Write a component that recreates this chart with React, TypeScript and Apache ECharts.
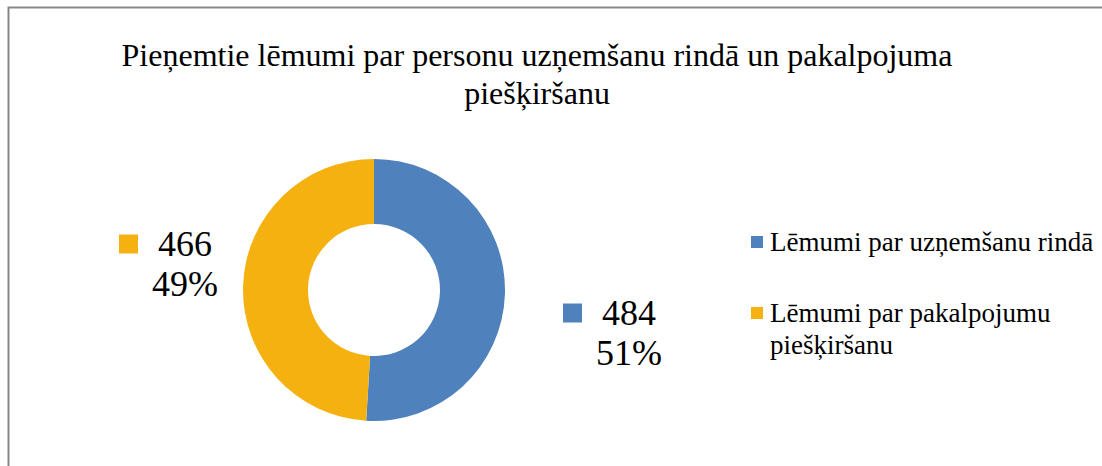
import React, { useEffect, useRef } from "react";
import * as echarts from "echarts";

const titleLines = ["Pieņemtie lēmumi par personu uzņemšanu rindā un pakalpojuma", "piešķiršanu"];
const categories = ["Lēmumi par uzņemšanu rindā", "Lēmumi par pakalpojumu piešķiršanu"];
const legendNames = ["Lēmumi par uzņemšanu rindā", " \nLēmumi par pakalpojumu\npiešķiršanu"];
const values = [484, 466];
const colors = ["#4F81BD", "#F5B110"];

const FONT = "Liberation Serif";

export default function App() {
  const ref = useRef<HTMLDivElement>(null);
  useEffect(() => {
    if (!ref.current) return;
    const chart = echarts.init(ref.current, null, { renderer: "svg" });
    const labelPos: Record<number, [number, number]> = { 0: [629, 333], 1: [185, 264] };
    chart.setOption({
      animation: false,
      backgroundColor: "#ffffff",
      title: {
        text: titleLines.join("\n"),
        left: 532,
        top: 31,
        textAlign: "center",
        textStyle: {
          fontFamily: FONT,
          fontWeight: "normal",
          fontSize: 32,
          lineHeight: 38,
          color: "#000000",
        },
      },
      legend: {
        orient: "vertical",
        left: 751,
        top: 226,
        padding: 0,
        itemGap: 7,
        itemWidth: 12,
        itemHeight: 12,
        icon: "rect",
        data: categories,
        formatter: (name: string) => legendNames[categories.indexOf(name)],
        textStyle: {
          fontFamily: FONT,
          fontSize: 27,
          lineHeight: 32,
          color: "#000000",
          padding: [0, 0, 0, 2],
        },
      },
      graphic: [
        {
          type: "rect",
          shape: { x: 8.5, y: 7.5, width: 1200, height: 600 },
          style: { fill: "none", stroke: "#878787", lineWidth: 2 },
          silent: true,
        },
      ],
      series: [
        {
          type: "pie",
          center: [374, 290],
          radius: [66, 131],
          startAngle: 90,
          clockwise: true,
          percentPrecision: 0,
          data: categories.map((c, i) => ({ name: c, value: values[i], itemStyle: { color: colors[i] } })),
          labelLine: { show: false },
          label: {
            show: true,
            position: "outside",
            align: "center",
            formatter: (p: any) =>
              `{${p.dataIndex === 0 ? "sqB" : "sqY"}|}{gap|}{v|${p.value}}{pad|}\n{v|${p.percent}%}`,
            rich: {
              sqB: { backgroundColor: colors[0], width: 19, height: 19 },
              sqY: { backgroundColor: colors[1], width: 19, height: 19 },
              gap: { width: 20 },
              pad: { width: 39 },
              v: { fontFamily: FONT, fontSize: 36, lineHeight: 40, color: "#000000" },
            },
          },
          labelLayout: (params: any) => {
            const pos = labelPos[params.dataIndex];
            return { x: pos[0], y: pos[1], align: "center", verticalAlign: "middle" };
          },
        },
      ],
    });
    return () => chart.dispose();
  }, []);
  return (
    <div
      ref={ref}
      style={{ position: "absolute", left: 0, top: 0, width: 1102, height: 466 }}
    />
  );
}
